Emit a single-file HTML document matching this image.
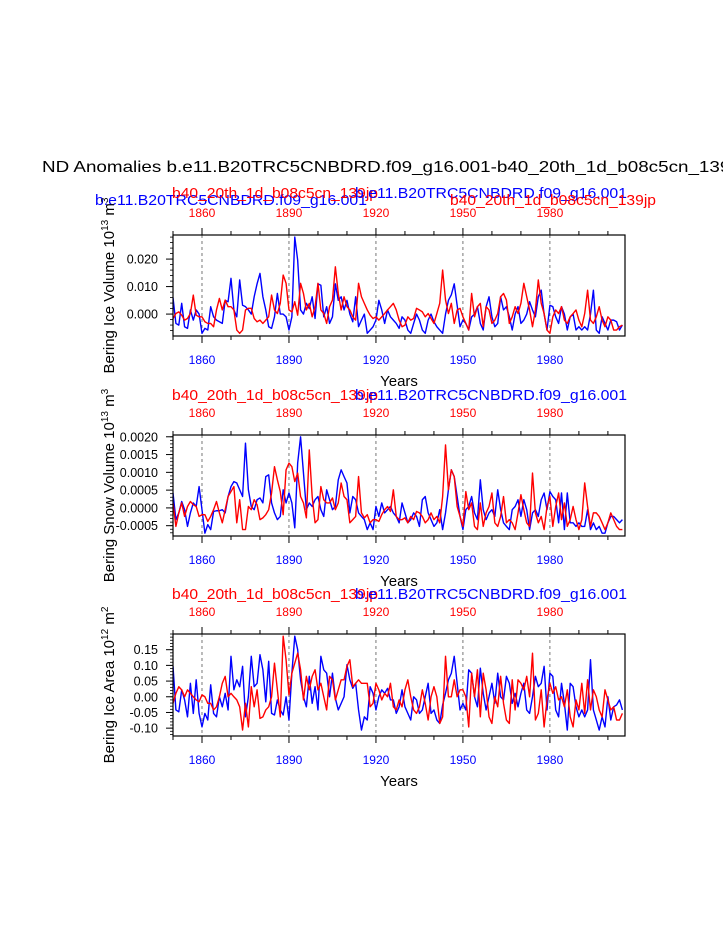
<!DOCTYPE html>
<html><head><meta charset="utf-8"><style>
html,body{margin:0;padding:0;background:#fff;overflow:hidden;}
svg{display:block;font-family:"Liberation Sans",Arial,sans-serif;}
</style></head><body>
<svg id="chart" width="723" height="935" viewBox="0 0 723 935" xmlns="http://www.w3.org/2000/svg">
<text x="42" y="172" font-size="16" fill="#000" textLength="703" lengthAdjust="spacingAndGlyphs">ND Anomalies b.e11.B20TRC5CNBDRD.f09_g16.001-b40_20th_1d_b08c5cn_139jp</text>
</svg>
<script>
const years = []; for (let y = 1850; y <= 2005; y++) years.push(y);
const xTickYears = [1860, 1890, 1920, 1950, 1980];
const ice1Blue = [6,-3.4,-4,3.9,-4.6,-5.2,1.5,-2.2,1.5,0, -7,-5.2,-5.8,2.7,-1,-2.2,-2.8,-3.4,5,4.5, 13,1.5,-1,12.4,3.2,2.7,1.5,0,6.3,11, 14.8,6.3,1.5,-4.6,-5.2,-1,7.5,0,0,-1, -5.8,-1,28,19.6,1.5,0,3.9,2,6.3,-1.6, 11,10.5,-1,2.7,-3.4,-1,11,5,6.3,1.5, 5,0,-2.8,6.3,-4.6,-2.2,0,-7,-5.8,-4.6, -2.2,5,1.5,-3.4,1.5,-1,-2.2,-3.4,-5.2,-1, -2.2,-5.8,-7,-3.4,0,-2.2,-5.8,-7,-2.2,0, -2.8,-4.6,-5.8,-7,0,5,7,11,3.2,-4.6, -2.2,-3.4,-5.8,-1,0,2.7,-3.4,-5.8,2.7,6.3, -1,-4.6,-3.4,6.3,1.5,2.7,-1,-5.8,0,2.7, -3.4,-2.2,0,4.5,1.5,-1,6.3,8.7,0,-5.8, 3.2,2.7,-1,-3.4,2.7,0,-5.8,-1,0,-5.8, -4.6,-5.8,-4.6,-5.8,0,8.7,-5.8,-7,-1,-3.4, -5.8,-2.2,-2.2,-2.8,-5.8,-4];
const ice1Red = [-1.6,0.2,0.8,-0.4,-2.2,-1.6,0.2,6.9,-0.4,-1, -1,-2.8,-3.4,-3.4,-4.6,1.5,5.7,1.5,5.1,2.7, 2.7,1.5,-5.8,-7,-5.8,1.5,2.1,2.1,-1.6,-2.8, -2.2,-3.4,-2.2,-1,6.9,1.5,0.2,3.9,14.2,11.2, 1.5,0.8,4.5,-0.4,11.2,7.5,1.5,3.9,-1,2.7, 11.2,1.5,0.2,-3.4,2.7,5.1,17.2,7.5,1.5,6.3, 2.7,1.5,-1,-2.2,11.2,6.3,3.9,1.5,-0.4,-1.6, -1,-2.2,-1,0.2,1.5,2.7,3.9,1.5,-2.2,-4.6, -4,-1,-2.2,-1.6,2.1,1.5,0.8,-1,0.2,-1.6, -3.4,0.2,3.9,16,5.1,0.2,3.9,-3.4,1.5,2.1, -1,-3.4,-5.8,7.5,-1,2.7,3.9,-4.6,2.7,1.5, -3.4,-2.2,0.2,6.3,7.5,5.1,-3.4,-1,2.7,0.2, 3.9,11.2,6.3,1.5,-4.6,1.5,12.4,3.9,0.2,-5.8, -7,-1,1.5,0.2,2.7,-2.2,-3.4,-1,0.2,1.5, -2.2,-4.6,0.2,8.7,-2.2,-3.4,-1,2.7,-2.2,-4.6, -1,-2.2,-5.8,-5.8,-4.6,-4];
const snow2Blue = [4.2,-3.3,-1.4,1.8,-0.5,-5.2,-1.4,1.4,0.4,6, -0.5,-7.1,-4.7,-6.1,-1,-0.8,-0.8,-0.5,-1.4,3.2, 6,7.4,7,5.1,3.2,18.2,5.1,0.4,-0.5,2.3, 2.8,1.4,8.8,9.3,1.4,-1.4,-3.3,-2.4,5.1,1.4, 4.2,1.4,-5.6,12.6,20,9.8,-0.5,1.4,0.4,2.3, 3.2,-0.5,-2.4,5.1,2.3,-0.5,0.4,7.9,10.7,8.8, 7,-1.4,3.2,2.3,-1.4,-2.4,-3.3,-6.1,-4.2,-6.1, 0.4,-2.4,1.4,-1.4,-0.5,0.4,-1.4,-2.4,-4.2,1.4, -1.4,-4.2,-3.3,-1.4,-2.4,-5.2,2.3,3.2,-1.4,-3.3, -5.2,-4.2,-0.5,-6.1,-1.4,5.1,10.7,8.8,3.2,-2.4, -6.1,-0.5,0.4,3.2,-1.4,-3.3,7.9,-0.5,-3.3,-1.4, -0.5,-2.4,5.1,-0.5,-4.2,-5.2,-6.1,-0.5,0.4,2.3, -2.4,2.3,-0.5,-6.1,-1.4,-0.5,-2.4,2.3,4.2,-0.5, 4.6,3.2,2.3,-4.2,4.2,-6.1,4.2,-4.2,-4.2,-5.2, -4.2,-5.2,-5.2,-0.5,-6.1,-4.2,-6.1,-5.2,-7.1,-7.1, -4.2,-2.4,-2.4,-3.3,-4.2,-3.3];
const snow2Red = [1.4,-5.2,-1.4,1.4,-2.4,0.4,1.8,0.9,0.4,-2.4, -1.9,-1.9,-3.8,-2.4,-0.5,1.8,-1.4,-4.2,-0.5,3.2, 4.6,6,-4.2,2.3,-6.1,-6.1,0.4,-0.5,2.3,0.9, -3.3,-2.8,-1.9,-0.5,4.2,11.6,7.9,4.6,-1.9,10.7, 12.6,11.6,7.4,9.8,3.2,1.4,-2.8,16.3,3.2,-4.2, -3.3,6,2.3,1.4,1.4,2.8,-0.5,1.4,7,3.2, 2.3,-4.2,-3.3,-2.4,8.8,-1.4,-2.8,-1.9,-4.2,-3.3, -3.3,-3.8,-1.9,-0.5,0.4,-1,5.1,-2.4,-3.3,-3.3, -2.8,-4.2,-2.4,-3.3,-1,-1.4,-2.4,-4.2,-3.3,-1.4, -3.3,-2.4,-4.2,3.2,17.7,5.1,10.7,8.8,0.4,-2.4, -5.2,4.6,-0.5,1.4,-5.2,-6.1,1.4,-5.2,-1.4,0.4, 4.2,-4.2,-5.2,-2.4,3.2,-4.2,-3.3,-4.2,-6.1,-1.4, 3.7,-0.5,-4.2,-5.2,9.8,-1.4,-4.2,-2.4,-6.1,0.4, 3.2,-5.2,0.4,4.2,-3.3,1.4,-5.2,-3.3,0.4,-3.3, -6.1,-3.3,7,0.4,-5.2,-1.4,-1.4,-2.4,-4.2,-6.1, -4.2,-1.4,-3.3,-5.2,-6.1,-6.1];
const area3Blue = [9.7,-4.2,-4.8,2.2,-1,-6.4,4.3,-5.3,5.4,-5.3, -9.6,-5.3,-7.4,3.8,-5.3,-6.4,0,-3.2,1.1,-4.2, 12.9,2.2,5.4,3.2,9.7,-6.4,0,12.9,3.2,4.3, 13.4,8.6,-1.6,11.3,-5.3,-5.8,-1,-4.2,-5.8,0, -7.4,7.5,19.3,15,5.4,0,-3.2,6.5,-2.1,3.2, -4.2,12.9,8.6,7.5,0,7.5,-0.5,-4.2,-2.1,0, 10.2,5.4,2.7,4.3,-4.2,-10.6,-6.4,-7.4,3.2,1.1, -4.2,0,2.2,1.1,2.7,-1,-1,-5.3,-3.2,2.2, -3.2,-5.3,-7.4,0,-1,-5.3,-4.2,0,4.3,-5.3, -4.2,-7.4,-8.5,-2.6,1.1,5.4,7.5,12.9,4.3,-4.2, -2.1,-4.2,8.6,7.5,0,-3.2,9.1,1.1,-4.2,0, 4.3,-2.1,7.5,0,-1,6.5,4.3,-2.1,1.1,-3.2, 1.1,4.3,-4.2,-5.3,0,6.5,3.2,4.3,9.7,-4.2, 7.5,6.5,-4.2,-6.4,4.3,-2.1,-10.6,4.3,3.2,-3.2, -6.4,-4.2,-6.4,-4.2,11.8,-4.2,-7.4,-10.6,-6.4,-9.6, 0,-7.4,-3.2,-2.6,-1,-4.2];
const area3Red = [-2.1,1.1,3.2,2.2,0,2.2,1.1,0,-1,-1.6, 0.6,0,-2.1,-2.1,-4.2,-3.2,0,4.3,6.5,0, 1.1,0,-1,-3.2,-10.6,-2.1,-9.6,3.2,-3.2,2.2, -6.9,-6.4,-4.2,-3.2,0,10.7,2.2,-6.4,19.3,11.8, 0.6,7.5,10.7,13.9,8.6,-1,6.5,2.2,6.5,8.6, 2.2,4.3,0,-4.2,6.5,5.4,-1,2.2,5.4,5.4, 9.7,11.8,3.2,4.3,5.4,4.3,4.3,4.3,-3.2,-2.1, 4.3,2.2,-1,1.1,0,4.3,-3.2,-4.2,-1,-3.2, 2.2,5.4,0,-4.2,-5.3,-3.2,2.2,-2.1,-7.4,0, 3.2,0,-8.5,-6.4,12.9,0,0,5.4,0,2.2, 2.2,0,-9.6,7.5,0,8.6,-6.4,7.5,2.2,-6.4, -8.5,0,-3.2,6.5,-2.1,-7.4,-8.5,5.4,-4.2,5.4, 4.3,2.2,6.5,0,13.9,-7.4,-5.3,2.2,-9.6,-1, 4.3,1.1,3.2,-1,0,-3.2,2.2,-6.4,-9.6,-1, -4.2,4.3,-5.3,5.4,-4.2,2.2,0,-4.2,-6.4,2.2, -1,-4.2,-3.2,-7.4,-7.4,-5.3];
const ice1Ticks = ["0.000","0.010","0.020"];
const snow2Ticks = ["-0.0005","0.0000","0.0005","0.0010","0.0015","0.0020"];
const area3Ticks = ["-0.10","-0.05","0.00","0.05","0.10","0.15"];

const NS = "http://www.w3.org/2000/svg";
const svg = document.getElementById('chart');
function mk(tag, attrs, parent) {
  const e = document.createElementNS(NS, tag);
  for (const k in attrs) e.setAttribute(k, attrs[k]);
  (parent || svg).appendChild(e);
  return e;
}
const X0 = 173, X1 = 625, Y0 = 1850, Y1 = 2005.9;
function xs(yr) { return X0 + (yr - Y0) * (X1 - X0) / (Y1 - Y0); }

const panels = [
  {id:'ice-volume', top:235, bot:336, vmin:-0.00797, vmax:0.02876, unit:1e-3, blue:ice1Blue, red:ice1Red, ticks:ice1Ticks, minor:0.002,
   ylab:'Bering Ice Volume 10', sup1:'13', unit2:' m', sup2:'3', titles:'p1'},
  {id:'snow-volume', top:435, bot:536, vmin:-0.00079, vmax:0.00205, unit:1e-4, blue:snow2Blue, red:snow2Red, ticks:snow2Ticks, minor:0.0001,
   ylab:'Bering Snow Volume 10', sup1:'13', unit2:' m', sup2:'3', titles:'p2'},
  {id:'ice-area', top:634, bot:736, vmin:-0.125, vmax:0.2, unit:1e-2, blue:area3Blue, red:area3Red, ticks:area3Ticks, minor:0.01,
   ylab:'Bering Ice Area 10', sup1:'12', unit2:' m', sup2:'2', titles:'p2'}
];

panels.forEach((p, pi) => {
  const g = mk('g', {});
  
  
  const ys = v => p.bot - (v - p.vmin) * (p.bot - p.top) / (p.vmax - p.vmin);
  const tt = [];
  if (p.titles === 'p1') {
    tt.push(['left-title-blue', 95, p.top - 30, '#0000ff', 'b.e11.B20TRC5CNBDRD.f09_g16.001']);
    tt.push(['left-title-red', 172, p.top - 37, '#ff0000', 'b40_20th_1d_b08c5cn_139jp']);
    tt.push(['right-title-blue', 355, p.top - 37, '#0000ff', 'b.e11.B20TRC5CNBDRD.f09_g16.001']);
    tt.push(['right-title-red', 450, p.top - 30, '#ff0000', 'b40_20th_1d_b08c5cn_139jp']);
  } else {
    tt.push(['left-title-red', 172, p.top - 35, '#ff0000', 'b40_20th_1d_b08c5cn_139jp']);
    tt.push(['right-title-blue', 355, p.top - 35, '#0000ff', 'b.e11.B20TRC5CNBDRD.f09_g16.001']);
  }
  tt.forEach(t => {
    const e = mk('text', {x:t[1], y:t[2], 'font-size':15, fill:t[3], textLength: t[4].length > 28 ? 272 : 206, lengthAdjust:'spacingAndGlyphs'}, g);
    
    
    e.textContent = t[4];
  });
  xTickYears.forEach(yr => {
    const l = mk('line', {x1:xs(yr), x2:xs(yr), y1:p.top, y2:p.bot, stroke:'#555', 'stroke-width':0.8, 'stroke-dasharray':'3,3'}, g);
    
    
  });
  const cp = mk('clipPath', {id:'clip' + pi}, g);
  mk('rect', {x:X0, y:p.top, width:X1 - X0, height:p.bot - p.top}, cp);
  [['blue', p.blue, '#0000ff'], ['red', p.red, '#ff0000']].forEach(s => {
    let d = '';
    s[1].forEach((v, i) => { d += (i ? 'L' : 'M') + xs(years[i]).toFixed(2) + ',' + ys(v * p.unit).toFixed(2); });
    const path = mk('path', {d:d, fill:'none', stroke:s[2], 'stroke-width':1.4, 'stroke-linejoin':'round', 'clip-path':'url(#clip' + pi + ')'}, g);
    
    
  });
  const fr = mk('rect', {x:X0, y:p.top, width:X1 - X0, height:p.bot - p.top, fill:'none', stroke:'#000', 'stroke-width':1.2}, g);
  
  
  for (let yr = 1850; yr <= 2005; yr += 10) {
    const major = xTickYears.indexOf(yr) >= 0;
    const L = major ? 7 : 4;
    mk('line', {x1:xs(yr), x2:xs(yr), y1:p.top, y2:p.top - L, stroke:'#000', 'stroke-width':1}, g);
    mk('line', {x1:xs(yr), x2:xs(yr), y1:p.bot, y2:p.bot + L, stroke:'#000', 'stroke-width':1}, g);
  }
  xTickYears.forEach(yr => {
    const a = mk('text', {x:xs(yr), y:p.top - 18, 'font-size':12, fill:'#ff0000', 'text-anchor':'middle'}, g);
    
    
    a.textContent = yr;
    const b = mk('text', {x:xs(yr), y:p.bot + 28, 'font-size':12, fill:'#0000ff', 'text-anchor':'middle'}, g);
    
    
    b.textContent = yr;
  });
  const xt = mk('text', {x:399, y:p.bot + 50, 'font-size':15, fill:'#000', 'text-anchor':'middle'}, g);
  
  
  xt.textContent = 'Years';
  const n0 = Math.ceil(p.vmin / p.minor - 1e-6), n1 = Math.floor(p.vmax / p.minor + 1e-6);
  for (let n = n0; n <= n1; n++) {
    const y = ys(n * p.minor);
    mk('line', {x1:X0, x2:X0 - 3, y1:y, y2:y, stroke:'#000', 'stroke-width':0.8}, g);
  }
  p.ticks.forEach(t => {
    const v = parseFloat(t), y = ys(v);
    mk('line', {x1:X0, x2:X0 - 7, y1:y, y2:y, stroke:'#000', 'stroke-width':1}, g);
    const e = mk('text', {x:158, y:y + 4.5, 'font-size':12.5, fill:'#000', 'text-anchor':'end'}, g);
    
    
    e.textContent = t;
  });
  const cy = (p.top + p.bot) / 2;
  const yt = mk('text', {x:0, y:0, 'font-size':15, fill:'#000', 'text-anchor':'middle', transform:'translate(' + 114 + ',' + cy + ') rotate(-90)'}, g);
  
  
  yt.textContent = p.ylab;
  const s1 = mk('tspan', {'font-size':10, dy:-6}, yt); s1.textContent = p.sup1;
  const s2 = mk('tspan', {dy:6}, yt); s2.textContent = p.unit2;
  const s3 = mk('tspan', {'font-size':10, dy:-6}, yt); s3.textContent = p.sup2;
});
</script>
</body></html>
